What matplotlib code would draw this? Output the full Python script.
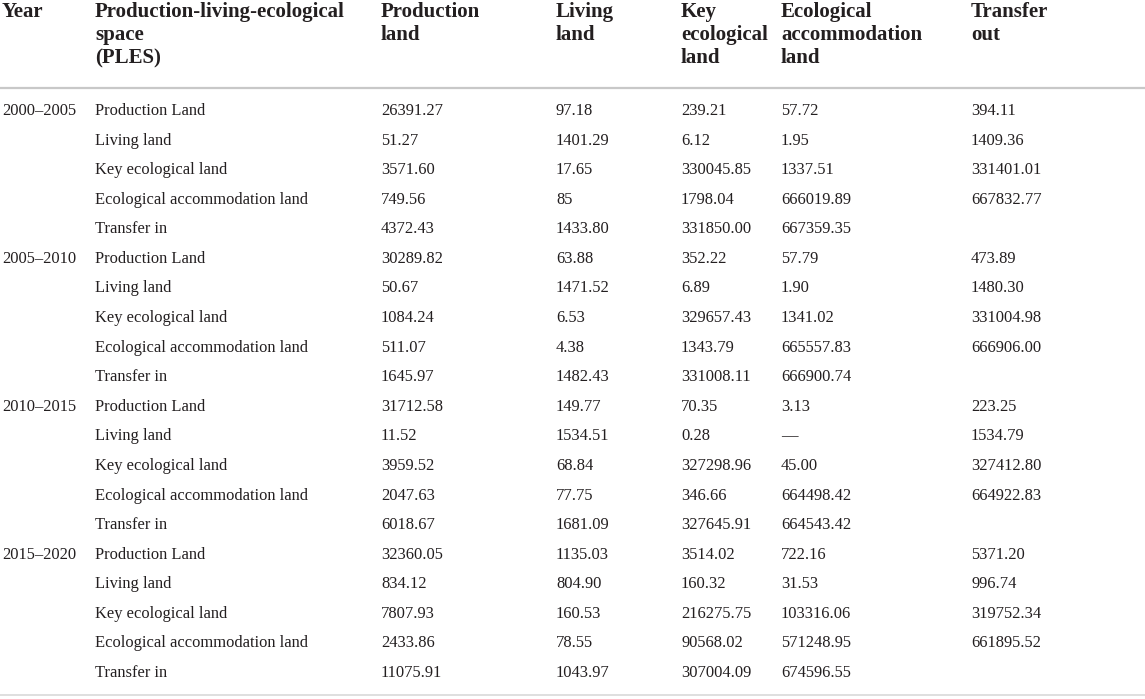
import matplotlib
matplotlib.use("Agg")
import matplotlib.pyplot as plt

columns = ["Year", "Production-living-ecological\nspace\n(PLES)", "Production\nland", "Living\nland",
           "Key\necological\nland", "Ecological\naccommodation\nland", "Transfer\nout"]
periods = ["2000–2005", "2005–2010", "2010–2015", "2015–2020"]
row_labels = ["Production Land", "Living land", "Key ecological land", "Ecological accommodation land", "Transfer in"]

p2000_2005 = [
    ["26391.27", "97.18", "239.21", "57.72", "394.11"],
    ["51.27", "1401.29", "6.12", "1.95", "1409.36"],
    ["3571.60", "17.65", "330045.85", "1337.51", "331401.01"],
    ["749.56", "85", "1798.04", "666019.89", "667832.77"],
    ["4372.43", "1433.80", "331850.00", "667359.35", ""],
]
p2005_2010 = [
    ["30289.82", "63.88", "352.22", "57.79", "473.89"],
    ["50.67", "1471.52", "6.89", "1.90", "1480.30"],
    ["1084.24", "6.53", "329657.43", "1341.02", "331004.98"],
    ["511.07", "4.38", "1343.79", "665557.83", "666906.00"],
    ["1645.97", "1482.43", "331008.11", "666900.74", ""],
]
p2010_2015 = [
    ["31712.58", "149.77", "70.35", "3.13", "223.25"],
    ["11.52", "1534.51", "0.28", "—", "1534.79"],
    ["3959.52", "68.84", "327298.96", "45.00", "327412.80"],
    ["2047.63", "77.75", "346.66", "664498.42", "664922.83"],
    ["6018.67", "1681.09", "327645.91", "664543.42", ""],
]
p2015_2020 = [
    ["32360.05", "1135.03", "3514.02", "722.16", "5371.20"],
    ["834.12", "804.90", "160.32", "31.53", "996.74"],
    ["7807.93", "160.53", "216275.75", "103316.06", "319752.34"],
    ["2433.86", "78.55", "90568.02", "571248.95", "661895.52"],
    ["11075.91", "1043.97", "307004.09", "674596.55", ""],
]
blocks = [p2000_2005, p2005_2010, p2010_2015, p2015_2020]

W, H = 1145, 699
fig = plt.figure(figsize=(W / 100, H / 100), dpi=100)
ax = fig.add_axes([0, 0, 1, 1])
ax.set_xlim(0, W)
ax.set_ylim(H, 0)
ax.axis("off")

font = "Liberation Serif"
col_x = [2, 95, 381, 556, 681, 781, 971]
head_fs = 15.0
body_fs = 11.9
txt_color = "#231f20"
head_baselines = [17, 40, 63]

for x, c in zip(col_x, columns):
    for line, yb in zip(c.split("\n"), head_baselines):
        ax.text(x, yb, line, fontfamily=font, fontsize=head_fs, fontweight="bold", color=txt_color,
                va="baseline", ha="left")

ax.plot([0, W], [88, 88], color="#c8c8c8", lw=1.6, solid_capstyle="butt")
ax.plot([0, W], [695, 695], color="#d9d9d9", lw=1.2, solid_capstyle="butt")

y0 = 111
dy = 29.58
r = 0
for period, block in zip(periods, blocks):
    for i, (lab, vals) in enumerate(zip(row_labels, block)):
        y = y0 + r * dy
        if i == 0:
            ax.text(col_x[0], y, period, fontfamily=font, fontsize=body_fs, color=txt_color, va="center", ha="left")
        ax.text(col_x[1], y, lab, fontfamily=font, fontsize=body_fs, color=txt_color, va="center", ha="left")
        for x, v in zip(col_x[2:], vals):
            ax.text(x, y, v, fontfamily=font, fontsize=body_fs, color=txt_color, va="center", ha="left")
        r += 1

fig.savefig("out.png", dpi=100, facecolor="white")
